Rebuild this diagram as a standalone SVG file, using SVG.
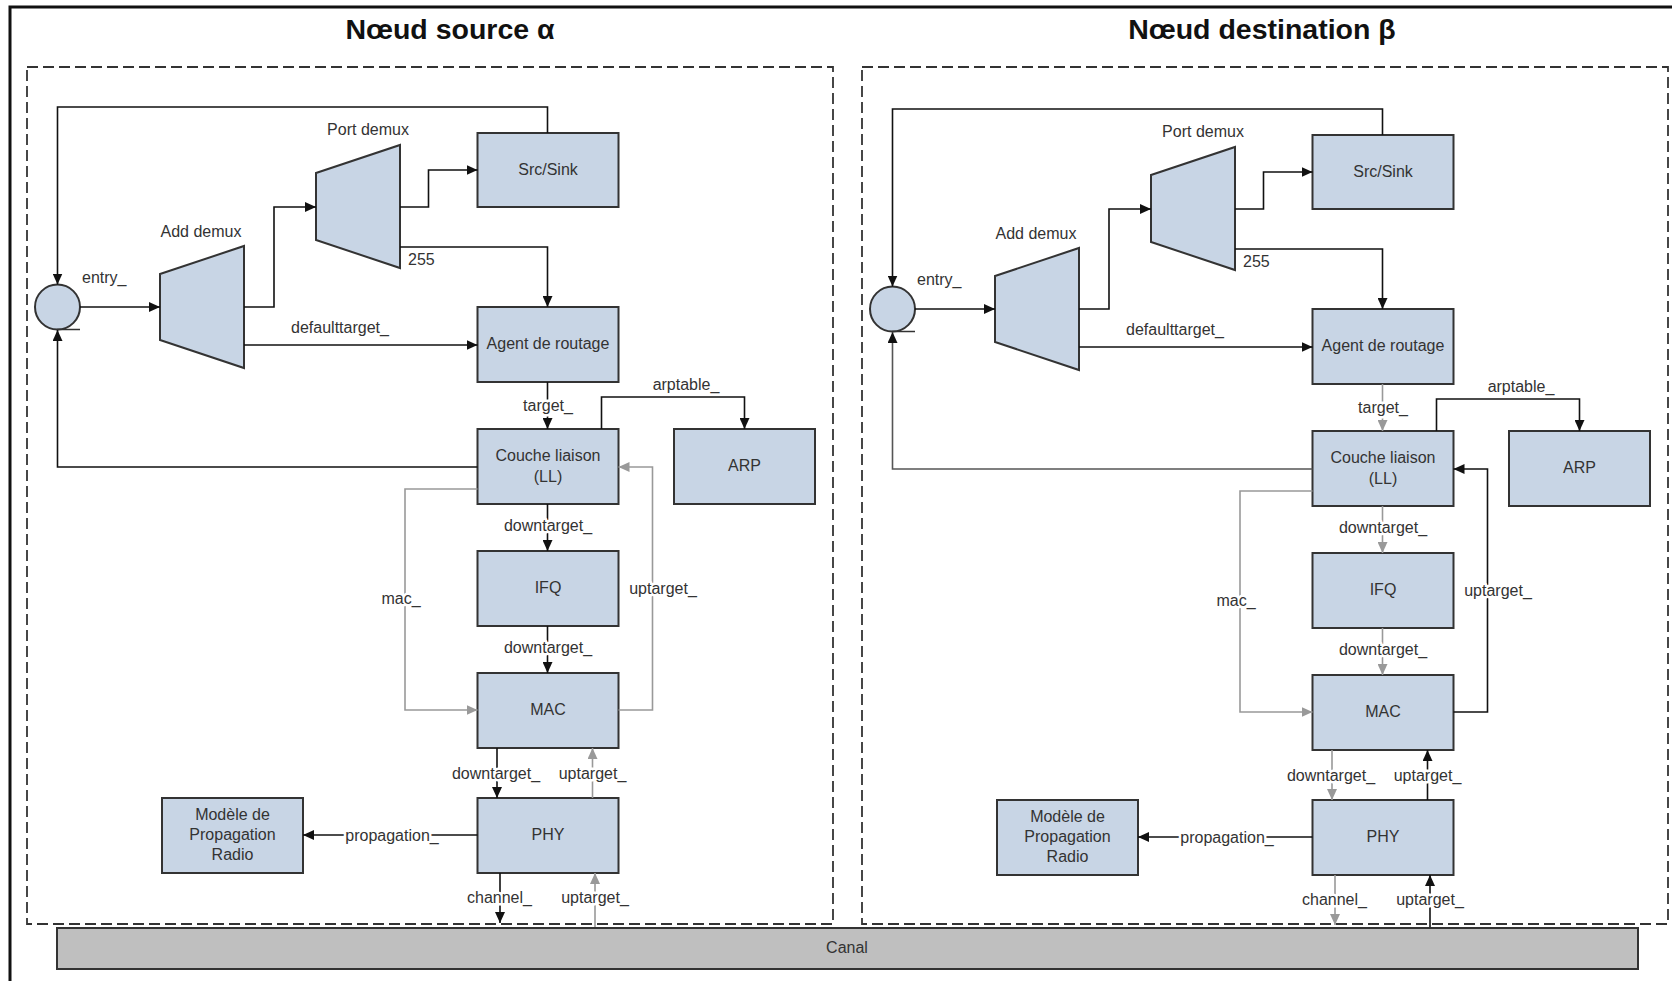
<svg xmlns="http://www.w3.org/2000/svg" width="1672" height="981" viewBox="0 0 1672 981">
<style>
.box{fill:#c8d5e5;stroke:#333;stroke-width:2}
.canal{fill:#bfbfbf;stroke:#333;stroke-width:2}
.dash{fill:none;stroke:#333;stroke-width:1.8;stroke-dasharray:11 5}
.t{font-family:"Liberation Sans",Arial,sans-serif;font-size:16px;fill:#333;text-anchor:middle}
.lbl{font-family:"Liberation Sans",Arial,sans-serif;font-size:16px;fill:#333;text-anchor:middle;paint-order:stroke;stroke:#fff;stroke-width:5px;stroke-linejoin:round}
.title{font-family:"Liberation Sans",Arial,sans-serif;font-size:28.5px;font-weight:bold;fill:#111;text-anchor:middle}
.k{fill:none;stroke:#111;stroke-width:1.6;marker-end:url(#ak)}
.g{fill:none;stroke:#999;stroke-width:1.6;marker-end:url(#ag)}
.d{fill:none;stroke:#555;stroke-width:1.6;marker-end:url(#ak)}
</style>
<defs>
<marker id="ak" markerUnits="userSpaceOnUse" markerWidth="12" markerHeight="10" refX="11" refY="5" orient="auto"><path d="M0,0 L11,5 L0,10 z" fill="#111"/></marker>
<marker id="ag" markerUnits="userSpaceOnUse" markerWidth="12" markerHeight="10" refX="11" refY="5" orient="auto"><path d="M0,0 L11,5 L0,10 z" fill="#999"/></marker>
</defs>
<rect width="1672" height="981" fill="#fff"/>
<path d="M10,990 V7 H1690" fill="none" stroke="#111" stroke-width="3"/>
<text class="title" x="450" y="39">Nœud source α</text>
<text class="title" x="1262" y="39">Nœud destination β</text>
<rect id="frame-src" class="dash" x="27" y="67" width="806" height="857"/>
<rect id="frame-dst" class="dash" x="862" y="67" width="806" height="857"/>

<!-- Source node -->
<g id="src-nodes">
<g id="src-entry"><circle class="box" cx="57.5" cy="307" r="22.5"/><line x1="57" y1="329.5" x2="80" y2="329.5" stroke="#333" stroke-width="1.5"/><text class="t" x="82" y="283" style="text-anchor:start">entry_</text></g>
<g id="src-adddemux"><polygon class="box" points="160,274 244,246 244,368 160,340"/><text class="t" x="201" y="237">Add demux</text></g>
<g id="src-portdemux"><polygon class="box" points="316,173 400,145 400,268 316,240"/><text class="t" x="368" y="135">Port demux</text></g>
<g id="src-srcsink"><rect class="box" x="477.5" y="133" width="141" height="74"/><text class="t" x="548" y="175">Src/Sink</text></g>
<g id="src-agent"><rect class="box" x="477.5" y="307" width="141" height="75"/><text class="t" x="548" y="349">Agent de routage</text></g>
<g id="src-ll"><rect class="box" x="477.5" y="429" width="141" height="75"/><text class="t" x="548" y="461">Couche liaison</text><text class="t" x="548" y="482">(LL)</text></g>
<g id="src-arp"><rect class="box" x="674" y="429" width="141" height="75"/><text class="t" x="744.5" y="471">ARP</text></g>
<g id="src-ifq"><rect class="box" x="477.5" y="551" width="141" height="75"/><text class="t" x="548" y="593">IFQ</text></g>
<g id="src-mac"><rect class="box" x="477.5" y="673" width="141" height="75"/><text class="t" x="548" y="715">MAC</text></g>
<g id="src-phy"><rect class="box" x="477.5" y="798" width="141" height="75"/><text class="t" x="548" y="840">PHY</text></g>
<g id="src-prop"><rect class="box" x="162" y="798" width="141" height="75"/><text class="t" x="232.5" y="820">Modèle de</text><text class="t" x="232.5" y="840">Propagation</text><text class="t" x="232.5" y="860">Radio</text></g>
</g>

<g id="src-connectors">
<path class="k" d="M547.5,133 V107 H57.5 V284.5"/>
<path class="k" d="M80,307 H160"/>
<path class="k" d="M244,307 H274 V207 H316"/>
<path class="k" d="M400,207 H428.5 V170 H477.5"/>
<path class="k" d="M400,247 H547.5 V307"/>
<text class="t" x="408" y="265" style="text-anchor:start">255</text>
<path class="k" d="M244,345 H477.5"/>
<text class="lbl" x="340" y="333">defaulttarget_</text>
<path class="k" d="M547.5,382 V429"/>
<text class="lbl" x="548" y="411">target_</text>
<path class="k" d="M601.5,429 V397 H744.5 V429"/>
<text class="lbl" x="686" y="390">arptable_</text>
<path class="k" d="M477.5,467 H57.5 V330"/>
<path class="g" d="M477.5,489 H405 V710 H477.5"/>
<text class="lbl" x="401" y="604">mac_</text>
<path class="k" d="M547.5,504 V551"/>
<text class="lbl" x="548" y="531">downtarget_</text>
<path class="k" d="M547.5,626 V673"/>
<text class="lbl" x="548" y="653">downtarget_</text>
<path class="g" d="M618.5,710 H652.5 V467 H618.5"/>
<text class="lbl" x="663" y="594">uptarget_</text>
<path class="k" d="M497,748 V798"/>
<text class="lbl" x="496" y="779">downtarget_</text>
<path class="g" d="M592.5,798 V748"/>
<text class="lbl" x="592.5" y="779">uptarget_</text>
<path class="k" d="M477.5,835 H303"/>
<text class="lbl" x="392" y="841">propagation_</text>
<path class="k" d="M500,873 V923"/>
<text class="lbl" x="499.5" y="903">channel_</text>
<path class="g" d="M595,927 V873"/>
<text class="lbl" x="595" y="903">uptarget_</text>
</g>

<!-- Destination node -->
<g id="dst-nodes" transform="translate(835,2)">
<g id="dst-entry"><circle class="box" cx="57.5" cy="307" r="22.5"/><line x1="57" y1="329.5" x2="80" y2="329.5" stroke="#333" stroke-width="1.5"/><text class="t" x="82" y="283" style="text-anchor:start">entry_</text></g>
<g id="dst-adddemux"><polygon class="box" points="160,274 244,246 244,368 160,340"/><text class="t" x="201" y="237">Add demux</text></g>
<g id="dst-portdemux"><polygon class="box" points="316,173 400,145 400,268 316,240"/><text class="t" x="368" y="135">Port demux</text></g>
<g id="dst-srcsink"><rect class="box" x="477.5" y="133" width="141" height="74"/><text class="t" x="548" y="175">Src/Sink</text></g>
<g id="dst-agent"><rect class="box" x="477.5" y="307" width="141" height="75"/><text class="t" x="548" y="349">Agent de routage</text></g>
<g id="dst-ll"><rect class="box" x="477.5" y="429" width="141" height="75"/><text class="t" x="548" y="461">Couche liaison</text><text class="t" x="548" y="482">(LL)</text></g>
<g id="dst-arp"><rect class="box" x="674" y="429" width="141" height="75"/><text class="t" x="744.5" y="471">ARP</text></g>
<g id="dst-ifq"><rect class="box" x="477.5" y="551" width="141" height="75"/><text class="t" x="548" y="593">IFQ</text></g>
<g id="dst-mac"><rect class="box" x="477.5" y="673" width="141" height="75"/><text class="t" x="548" y="715">MAC</text></g>
<g id="dst-phy"><rect class="box" x="477.5" y="798" width="141" height="75"/><text class="t" x="548" y="840">PHY</text></g>
<g id="dst-prop"><rect class="box" x="162" y="798" width="141" height="75"/><text class="t" x="232.5" y="820">Modèle de</text><text class="t" x="232.5" y="840">Propagation</text><text class="t" x="232.5" y="860">Radio</text></g>
</g>

<g id="dst-connectors" transform="translate(835,2)">
<path class="k" d="M547.5,133 V107 H57.5 V284.5"/>
<path class="k" d="M80,307 H160"/>
<path class="k" d="M244,307 H274 V207 H316"/>
<path class="k" d="M400,207 H428.5 V170 H477.5"/>
<path class="k" d="M400,247 H547.5 V307"/>
<text class="t" x="408" y="265" style="text-anchor:start">255</text>
<path class="k" d="M244,345 H477.5"/>
<text class="lbl" x="340" y="333">defaulttarget_</text>
<path class="g" d="M547.5,382 V429"/>
<text class="lbl" x="548" y="411">target_</text>
<path class="k" d="M601.5,429 V397 H744.5 V429"/>
<text class="lbl" x="686" y="390">arptable_</text>
<path class="d" d="M477.5,467 H57.5 V330"/>
<path class="g" d="M477.5,489 H405 V710 H477.5"/>
<text class="lbl" x="401" y="604">mac_</text>
<path class="g" d="M547.5,504 V551"/>
<text class="lbl" x="548" y="531">downtarget_</text>
<path class="g" d="M547.5,626 V673"/>
<text class="lbl" x="548" y="653">downtarget_</text>
<path class="k" d="M618.5,710 H652.5 V467 H618.5"/>
<text class="lbl" x="663" y="594">uptarget_</text>
<path class="g" d="M497,748 V798"/>
<text class="lbl" x="496" y="779">downtarget_</text>
<path class="k" d="M592.5,798 V748"/>
<text class="lbl" x="592.5" y="779">uptarget_</text>
<path class="k" d="M477.5,835 H303"/>
<text class="lbl" x="392" y="841">propagation_</text>
<path class="g" d="M500,873 V923"/>
<text class="lbl" x="499.5" y="903">channel_</text>
<path class="k" d="M595,925 V873"/>
<text class="lbl" x="595" y="903">uptarget_</text>
</g>

<g id="canal"><rect class="canal" x="57" y="928" width="1581" height="41"/><text class="t" x="847" y="953">Canal</text></g>
</svg>
